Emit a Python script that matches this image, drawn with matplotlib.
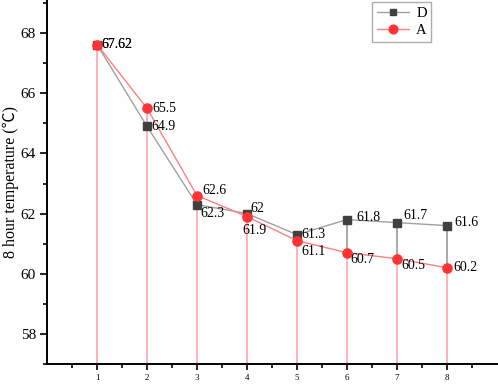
import matplotlib
matplotlib.use("Agg")
import matplotlib.pyplot as plt
from matplotlib.ticker import MultipleLocator, FixedLocator

x = [1, 2, 3, 4, 5, 6, 7, 8]
d_vals = [67.62, 64.9, 62.3, 62.0, 61.3, 61.8, 61.7, 61.6]
a_vals = [67.62, 65.5, 62.6, 61.9, 61.1, 60.7, 60.5, 60.2]
d_labels = ["67.62", "64.9", "62.3", "62", "61.3", "61.8", "61.7", "61.6"]
a_labels = ["67.62", "65.5", "62.6", "61.9", "61.1", "60.7", "60.5", "60.2"]
x_ticklabels = ["1", "2", "3", "4", "5", "6", "7", "8"]
y_ticks = [58, 60, 62, 64, 66, 68]

serif = ["Liberation Serif", "Noto Sans CJK SC", "DejaVu Sans"]
plt.rcParams['font.family'] = serif

fig = plt.figure(figsize=(4.98, 3.86), dpi=100)
ax = fig.add_axes([0.0944, 0.057, 0.9036, 0.943])
ymin = 57.0
ax.set_xlim(0, 9)
ax.set_ylim(ymin, 69.1)

# drop lines
ax.vlines(x, ymin, d_vals, colors="#aaaaaa", linewidth=1.1, zorder=1, antialiased=False)
ax.vlines(x, ymin, a_vals, colors="#ffb3bb", linewidth=1.1, zorder=2, antialiased=False)

ax.plot(x, d_vals, color="#a0a0a0", linewidth=1.0, marker="s", markersize=5.2,
        markerfacecolor="#404040", markeredgecolor="#404040", label="D", zorder=3)
ax.plot(x, a_vals, color="#ff8080", linewidth=1.0, marker="o", markersize=6.6,
        markerfacecolor="#ff3333", markeredgecolor="#ff3333", label="A", zorder=4)

d_off = [(4, 0), (4, 0), (3, -9), (3, 5), (4, 0), (9, 2), (6, 7), (7, 3)]
a_off = [(4, 0), (5, 0), (5, 5), (-5, -14), (4, -11), (3, -7), (4, -7), (6, 0)]
for xi, v, lab, off in zip(x, d_vals, d_labels, d_off):
    ax.annotate(lab, (xi, v), xytext=off, textcoords="offset pixels",
                ha="left", va="center", fontsize=10, color="black", zorder=6)
for xi, v, lab, off in zip(x, a_vals, a_labels, a_off):
    ax.annotate(lab, (xi, v), xytext=off, textcoords="offset pixels",
                ha="left", va="center", fontsize=10, color="black", zorder=6)

ax.spines["top"].set_visible(False)
ax.spines["right"].set_visible(False)
ax.spines["left"].set_linewidth(1.4)
ax.spines["bottom"].set_linewidth(1.4)

ax.set_xticks(x)
ax.set_xticklabels(x_ticklabels, fontsize=6.5)
ax.xaxis.set_minor_locator(FixedLocator([0.5 + i for i in range(9)]))
ax.set_yticks(y_ticks)
ax.set_yticklabels([str(t) for t in y_ticks], fontsize=11)
ax.yaxis.set_minor_locator(MultipleLocator(1))
ax.tick_params(axis="x", which="major", direction="out", length=4, width=1.2, pad=3)
ax.tick_params(axis="x", which="minor", direction="out", length=3, width=1.2)
ax.tick_params(axis="y", which="major", direction="out", length=5, width=1.2, pad=3)
ax.tick_params(axis="y", which="minor", direction="out", length=3, width=1.2)

ax.set_ylabel("8 hour temperature (℃)", fontsize=11.5, labelpad=1)

leg = ax.legend(loc="upper left", bbox_to_anchor=(0.72, 0.998), fontsize=10.5,
                frameon=True, fancybox=False, edgecolor="#999999",
                handlelength=2.2, borderpad=0.3, labelspacing=0.3,
                handletextpad=0.5, borderaxespad=0.1, markerscale=0.95)
leg.get_frame().set_linewidth(1.0)

fig.savefig("out.png", dpi=100)
